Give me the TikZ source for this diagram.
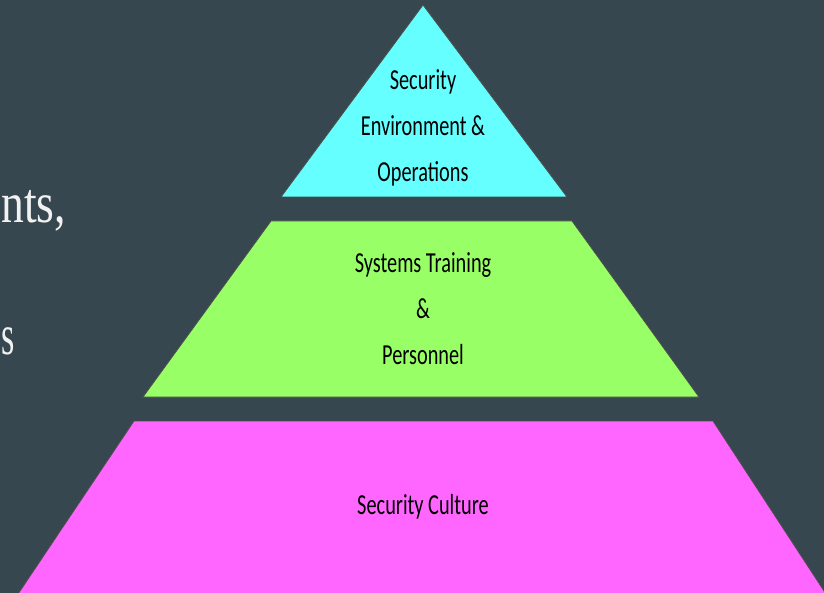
\documentclass[tikz,border=0pt]{standalone}
\usepackage{fontspec}
\setmainfont{Carlito}
\newfontfamily\leftserif{Liberation Serif}
\definecolor{bgc}{RGB}{54,71,79}
\definecolor{cyanf}{RGB}{102,255,255}
\definecolor{greenf}{RGB}{153,255,102}
\definecolor{magf}{RGB}{255,102,255}
\definecolor{lighttext}{RGB}{242,242,242}
\newcommand{\pyrtext}[1]{\scalebox{0.7}[1]{\fontsize{29}{46}\selectfont\begin{tabular}{@{}c@{}}#1\end{tabular}}}
\begin{document}
\begin{tikzpicture}[x=1pt,y=-1pt,
  layer/.style={draw=black!70,line width=0.8pt,line join=miter},
  lbl/.style={inner sep=0pt,text=black},
  side/.style={inner sep=0pt,text=lighttext,anchor=base west}]
\useasboundingbox (0,0) rectangle (824,593);
\fill[bgc] (0,0) rectangle (824,593);
\begin{scope}
\clip (0,0) rectangle (824,593);
% left text
\node[side] (s1) at (1,223) {\scalebox{0.8}[1]{\leftserif\fontsize{57}{60}\selectfont nts,}};
\node[side] (s2) at (1,355) {\scalebox{0.6}[1]{\leftserif\fontsize{57}{60}\selectfont s}};
% pyramid
\draw[layer,fill=cyanf] (423,5) -- (567,197) -- (281,197) -- cycle;
\draw[layer,fill=greenf] (271,221) -- (572,221) -- (699,397) -- (143,397) -- cycle;
\draw[layer,fill=magf] (134,421) -- (713,421) -- (826,594) -- (18,594) -- cycle;
\end{scope}
\node[lbl] (top) at (423,126) {\pyrtext{Security\\Environment \&\\Operations}};
\node[lbl] (mid) at (423,309) {\pyrtext{Systems Training\\\&\\Personnel}};
\node[lbl] (bot) at (423,505) {\pyrtext{Security Culture}};
\end{tikzpicture}
\end{document}
